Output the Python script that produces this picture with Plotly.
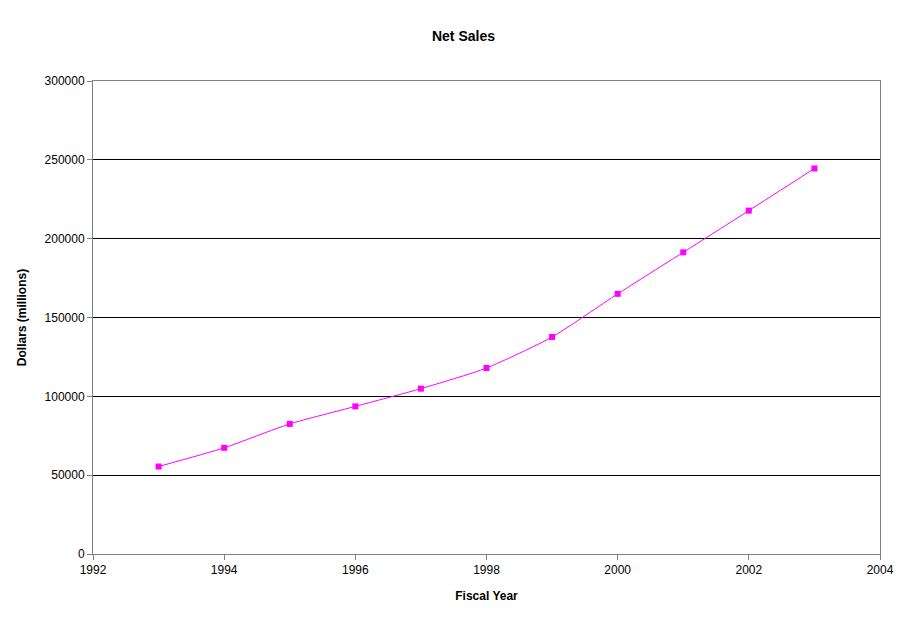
import plotly.graph_objects as go

years = [1993, 1994, 1995, 1996, 1997, 1998, 1999, 2000, 2001, 2002, 2003]
net_sales = [55484, 67345, 82494, 93627, 104859, 117958, 137634, 165013, 191329, 217799, 244524]

fig = go.Figure(go.Scatter(
    x=years, y=net_sales, mode="lines+markers",
    line=dict(color="#FF00FF", width=1, shape="spline", smoothing=0.6),
    marker=dict(symbol="square", size=6, color="#FF00FF"),
))

font = "Liberation Sans, Arial, sans-serif"
fig.update_layout(
    width=911, height=623,
    margin=dict(l=85, r=39, t=73, b=77),
    paper_bgcolor="white", plot_bgcolor="white",
    showlegend=False,
    font=dict(family=font, size=12, color="black"),
    title=dict(text="<b>Net Sales</b>", x=0.5, xanchor="center", y=0.962,
               font=dict(size=14)),
)
fig.update_xaxes(
    range=[1992, 2004], tick0=1992, dtick=2,
    showgrid=False, showline=True, linecolor="#808080", mirror=True,
    ticks="outside", ticklen=5, tickcolor="#808080",
    title=dict(text="<b>Fiscal Year</b>", font=dict(size=12)),
)
fig.update_yaxes(
    range=[0, 300000], dtick=50000, tickformat="d",
    showgrid=True, gridcolor="black", gridwidth=1,
    showline=True, linecolor="#808080", mirror=True,
    ticks="outside", ticklen=5, tickcolor="#808080", zeroline=False,
    title=dict(text="<b>Dollars (millions)</b>", font=dict(size=12)),
)

fig.write_html("out.html")
